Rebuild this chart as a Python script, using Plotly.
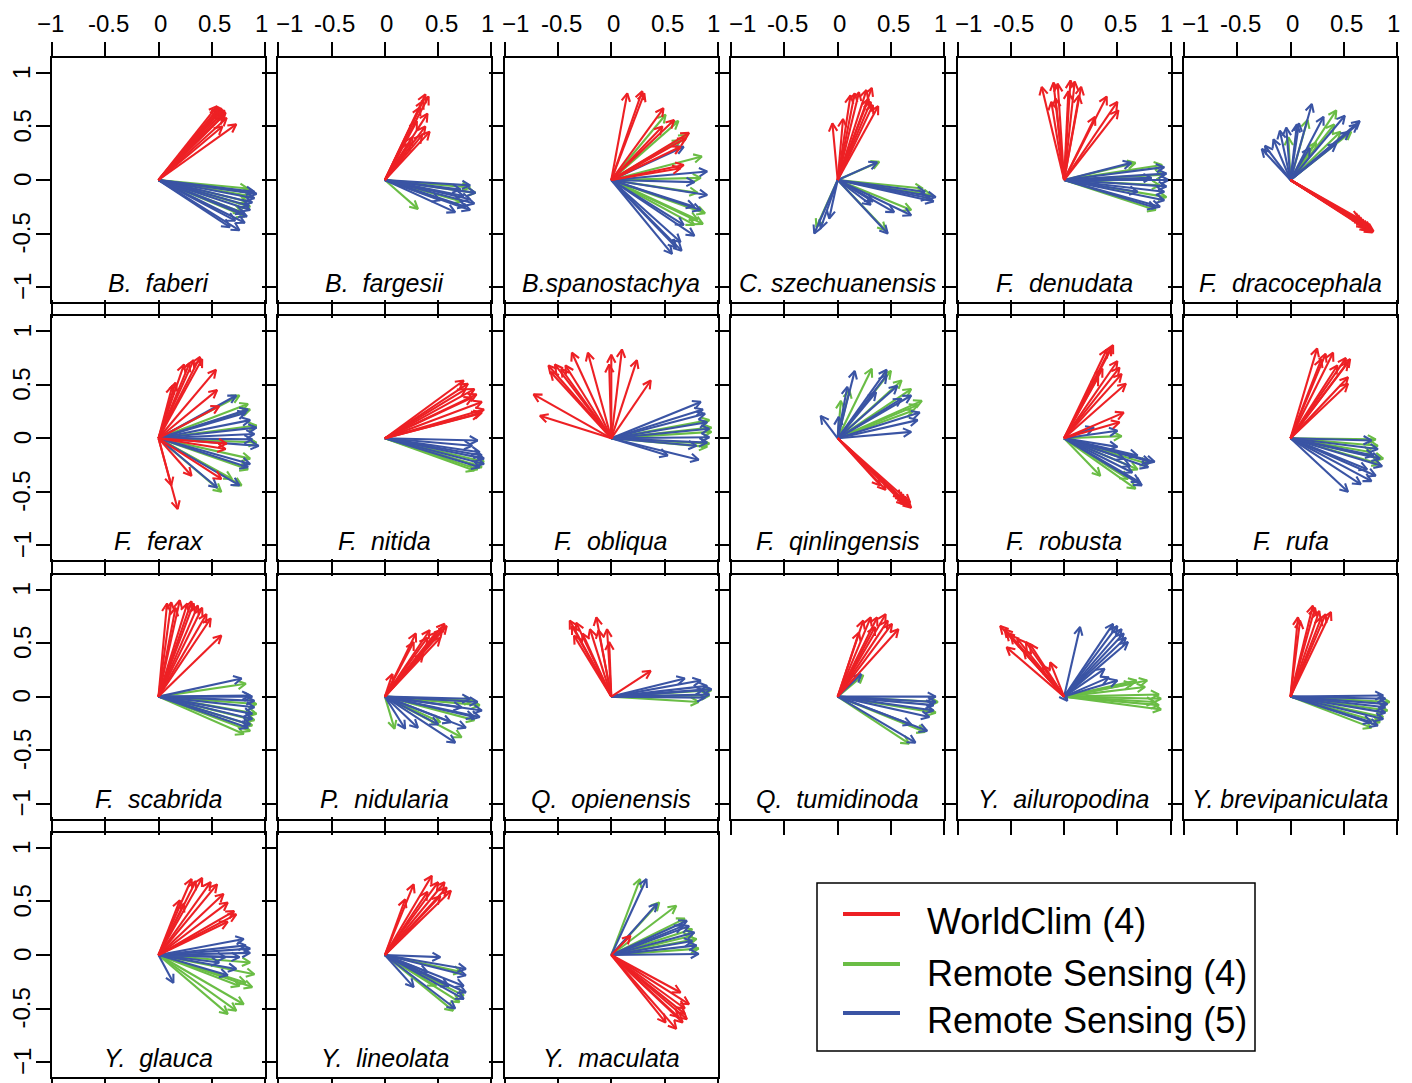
import numpy as np
import plotly.graph_objects as go

W, H = 1412, 1083
RED = "#ED2024"
GREEN = "#6ABD45"
BLUE = "#3A54A4"
FONT = "Liberation Sans, Arial, Helvetica, sans-serif"

TICK_VALS = [-1, -0.5, 0, 0.5, 1]
TICK_TEXT = ["\u22121", "-0.5", "0", "0.5", "1"]
X_RANGE = [-1.0, 1.0]
Y_RANGE = [-1.14, 1.14]

LEGEND_LABELS = ["WorldClim (4)", "Remote Sensing (4)", "Remote Sensing (5)"]

SPECIES = ["B.\u00a0 faberi", "B.\u00a0 fargesii", "B.spanostachya", "C. szechuanensis",
           "F.\u00a0 denudata", "F.\u00a0 dracocephala", "F.\u00a0 ferax", "F.\u00a0 nitida",
           "F.\u00a0 obliqua", "F.\u00a0 qinlingensis", "F.\u00a0 robusta", "F.\u00a0 rufa",
           "F.\u00a0 scabrida", "P.\u00a0 nidularia", "Q.\u00a0 opienensis", "Q.\u00a0 tumidinoda",
           "Y.\u00a0 ailuropodina", "Y. brevipaniculata", "Y.\u00a0 glauca", "Y.\u00a0 lineolata",
           "Y.\u00a0 maculata"]

# ---- arrow end points (x, y) per species and variable set ----
FABERI_WC = [(0.55, 0.69), (0.57, 0.68), (0.59, 0.67), (0.6, 0.66), (0.62, 0.65), (0.63, 0.63), (0.58, 0.64),
             (0.61, 0.6), (0.6, 0.5), (0.73, 0.52), (0.56, 0.66), (0.64, 0.58)]
FABERI_RS4 = [(0.84, -0.08), (0.86, -0.15), (0.86, -0.25), (0.81, -0.34), (0.78, -0.3), (0.83, -0.2), (0.88, -0.12)]
FABERI_RS5 = [(0.9, -0.11), (0.9, -0.17), (0.88, -0.21), (0.86, -0.28), (0.83, -0.34), (0.81, -0.4), (0.67, -0.44),
              (0.76, -0.47), (0.92, -0.13), (0.85, -0.24), (0.8, -0.31), (0.72, -0.38)]

FARGESII_WC = [(0.38, 0.8), (0.41, 0.78), (0.36, 0.74), (0.33, 0.68), (0.4, 0.62), (0.3, 0.55), (0.38, 0.5),
               (0.26, 0.4), (0.42, 0.45), (0.24, 0.35), (0.35, 0.42)]
FARGESII_RS4 = [(0.31, -0.27), (0.8, -0.07), (0.72, -0.2), (0.85, -0.12)]
FARGESII_RS5 = [(0.8, -0.05), (0.85, -0.12), (0.8, -0.18), (0.76, -0.25), (0.66, -0.3), (0.8, -0.28), (0.52, -0.19),
                (0.71, -0.09), (0.84, -0.22), (0.74, -0.15)]

SPANOSTACHYA_WC = [(0.15, 0.81), (0.29, 0.83), (0.31, 0.81), (0.49, 0.67), (0.59, 0.56), (0.48, 0.5), (0.73, 0.44),
                   (0.7, 0.39), (0.65, 0.31), (0.68, 0.14), (0.65, 0.11)]
SPANOSTACHYA_RS4 = [(0.51, 0.61), (0.63, 0.55), (0.71, 0.42), (0.65, 0.37), (0.85, 0.22), (0.84, 0.02), (0.81, -0.12),
                    (0.88, -0.31), (0.86, -0.41), (0.81, -0.37), (0.78, -0.42)]
SPANOSTACHYA_RS5 = [(0.68, 0.31), (0.9, 0.08), (0.78, -0.02), (0.9, -0.14), (0.78, -0.25), (0.84, -0.28), (0.78, -0.52),
                    (0.65, -0.58), (0.57, -0.69), (0.66, -0.66), (0.61, -0.63), (0.68, -0.42)]

SZECHUANENSIS_WC = [(-0.05, 0.53), (0.05, 0.57), (0.16, 0.81), (0.2, 0.82), (0.27, 0.84), (0.32, 0.86), (0.29, 0.76),
                    (0.33, 0.7), (0.38, 0.69), (0.31, 0.73), (0.12, 0.79)]
SZECHUANENSIS_RS4 = [(0.39, 0.17), (0.69, -0.28), (0.88, -0.14), (-0.2, -0.44), (0.45, -0.47), (0.8, -0.08)]
SZECHUANENSIS_RS5 = [(0.37, 0.165), (0.92, -0.16), (0.9, -0.2), (0.82, -0.11), (0.69, -0.33), (0.53, -0.3), (0.47, -0.5),
                     (0.31, -0.23), (-0.22, -0.5), (-0.16, -0.45), (-0.08, -0.36), (0.86, -0.17), (0.33, -0.2)]

DENUDATA_WC = [(-0.21, 0.87), (-0.1, 0.91), (-0.06, 0.9), (-0.08, 0.76), (0.06, 0.93), (0.1, 0.92), (0.16, 0.87),
               (0.14, 0.79), (0.04, 0.83), (0.4, 0.78), (0.5, 0.73), (0.51, 0.65), (0.29, 0.59), (-0.12, 0.73)]
DENUDATA_RS4 = [(0.92, 0.14), (0.94, 0.05), (0.9, -0.05), (0.86, -0.28), (0.96, -0.16), (0.67, 0.16)]
DENUDATA_RS5 = [(0.63, 0.16), (0.94, 0.12), (0.96, 0.06), (0.98, 0.0), (0.96, -0.06), (0.94, -0.11), (0.94, -0.19),
                (0.9, -0.25), (0.86, -0.26), (0.82, 0.02), (0.69, -0.11)]

DRACOCEPHALA_WC = [(0.78, -0.48), (0.77, -0.49), (0.75, -0.47), (0.74, -0.45), (0.72, -0.44), (0.7, -0.42), (0.68, -0.4),
                   (0.66, -0.38), (0.64, -0.36), (0.76, -0.46), (0.73, -0.47), (0.7, -0.44)]
DRACOCEPHALA_RS4 = [(-0.02, 0.4), (0.16, 0.56), (0.43, 0.65), (0.41, 0.52), (0.47, 0.45), (0.57, 0.45), (0.24, 0.35)]
DRACOCEPHALA_RS5 = [(-0.24, 0.32), (-0.27, 0.29), (-0.16, 0.38), (-0.1, 0.46), (-0.04, 0.49), (0.06, 0.52), (0.08, 0.53),
                    (0.2, 0.71), (0.31, 0.59), (0.51, 0.6), (0.65, 0.55), (0.63, 0.52), (0.55, 0.45), (0.43, 0.34),
                    (0.18, 0.3)]

FERAX_WC = [(0.24, 0.69), (0.29, 0.7), (0.33, 0.73), (0.39, 0.76), (0.41, 0.74), (0.16, 0.52), (0.13, 0.49),
            (0.54, 0.64), (0.55, 0.45), (0.57, 0.3), (0.63, -0.1), (0.64, -0.05), (0.31, -0.35), (0.12, -0.44),
            (0.18, -0.66), (0.59, -0.38)]
FERAX_RS4 = [(0.76, 0.4), (0.84, 0.32), (0.86, 0.27), (0.92, 0.12), (0.92, -0.04), (0.86, -0.19), (0.84, -0.29),
             (0.78, -0.44), (0.59, -0.5), (0.69, -0.38)]
FERAX_RS5 = [(0.73, 0.4), (0.84, 0.27), (0.86, 0.17), (0.92, 0.1), (0.9, 0.04), (0.94, -0.07), (0.86, -0.24),
             (0.84, -0.27), (0.76, -0.44), (0.55, -0.46), (0.82, 0.24), (0.88, -0.01)]

NITIDA_WC = [(0.74, 0.54), (0.78, 0.51), (0.84, 0.46), (0.86, 0.41), (0.91, 0.34), (0.93, 0.27), (0.89, 0.23),
             (0.82, 0.38), (0.91, 0.24), (0.76, 0.46)]
NITIDA_RS4 = [(0.84, -0.3), (0.91, -0.27), (0.93, -0.22), (0.87, -0.29), (0.89, -0.26)]
NITIDA_RS5 = [(0.87, -0.02), (0.89, -0.13), (0.93, -0.19), (0.93, -0.24), (0.89, -0.27), (0.82, -0.07), (0.91, -0.16)]

OBLIQUA_WC = [(-0.73, 0.41), (-0.67, 0.21), (-0.59, 0.68), (-0.53, 0.69), (-0.47, 0.65), (-0.43, 0.68), (-0.37, 0.8),
              (-0.22, 0.8), (-0.02, 0.69), (0.0, 0.78), (0.1, 0.83), (0.24, 0.73), (0.37, 0.54), (-0.57, 0.62)]
OBLIQUA_RS4 = [(0.92, 0.17), (0.94, 0.1), (0.94, 0.06), (0.92, -0.05), (0.9, -0.08)]
OBLIQUA_RS5 = [(0.84, 0.34), (0.86, 0.27), (0.88, 0.23), (0.9, 0.15), (0.92, 0.09), (0.92, 0.01), (0.8, -0.07),
               (0.53, -0.16), (0.82, -0.2), (0.9, -0.04)]

QINLINGENSIS_WC = [(0.69, -0.65), (0.67, -0.63), (0.66, -0.62), (0.64, -0.6), (0.62, -0.58), (0.6, -0.56), (0.68, -0.6),
                   (0.45, -0.48), (0.4, -0.44), (0.63, -0.62)]
QINLINGENSIS_RS4 = [(0.03, 0.35), (0.32, 0.65), (0.5, 0.63), (0.6, 0.54), (0.69, 0.46), (0.79, 0.35), (0.75, 0.31),
                    (0.11, 0.45), (0.71, 0.26)]
QINLINGENSIS_RS5 = [(-0.16, 0.21), (0.01, 0.2), (0.09, 0.48), (0.16, 0.63), (0.46, 0.64), (0.46, 0.59), (0.56, 0.49),
                    (0.69, 0.4), (0.77, 0.24), (0.75, 0.17), (0.69, 0.06), (0.6, 0.37), (0.36, 0.43)]

ROBUSTA_WC = [(0.44, 0.85), (0.46, 0.87), (0.4, 0.83), (0.5, 0.72), (0.52, 0.66), (0.54, 0.6), (0.58, 0.51),
              (0.56, 0.24), (0.52, 0.15), (0.36, 0.65), (0.32, 0.57)]
ROBUSTA_RS4 = [(0.54, 0.02), (0.34, -0.35), (0.67, -0.47), (0.69, -0.29), (0.79, -0.24), (0.6, -0.38)]
ROBUSTA_RS5 = [(0.28, 0.1), (0.5, 0.07), (0.5, -0.08), (0.69, -0.16), (0.81, -0.22), (0.85, -0.22), (0.79, -0.27),
               (0.73, -0.44), (0.71, -0.41), (0.64, -0.32), (0.62, -0.26), (0.56, -0.19)]

RUFA_WC = [(0.25, 0.84), (0.33, 0.79), (0.4, 0.8), (0.52, 0.75), (0.56, 0.74), (0.54, 0.71), (0.54, 0.57),
           (0.54, 0.51), (0.44, 0.68), (0.29, 0.74)]
RUFA_RS4 = [(0.82, -0.07), (0.87, -0.19), (0.84, -0.24), (0.8, -0.01), (0.76, -0.13)]
RUFA_RS5 = [(0.76, -0.02), (0.82, -0.1), (0.84, -0.19), (0.86, -0.26), (0.8, -0.35), (0.76, -0.4), (0.66, -0.43),
            (0.54, -0.5), (0.72, -0.29), (0.78, -0.16)]

SCABRIDA_WC = [(0.08, 0.87), (0.12, 0.88), (0.2, 0.9), (0.31, 0.89), (0.33, 0.87), (0.37, 0.85), (0.41, 0.83),
               (0.45, 0.77), (0.49, 0.73), (0.59, 0.57), (0.16, 0.83), (0.27, 0.87)]
SCABRIDA_RS4 = [(0.82, 0.12), (0.92, -0.07), (0.92, -0.16), (0.9, -0.22), (0.86, -0.32), (0.8, -0.35), (0.88, -0.27)]
SCABRIDA_RS5 = [(0.78, 0.17), (0.88, 0.0), (0.9, -0.04), (0.9, -0.1), (0.88, -0.16), (0.88, -0.21), (0.86, -0.26),
                (0.84, -0.29), (0.86, 0.01)]

NIDULARIA_WC = [(0.56, 0.68), (0.58, 0.66), (0.54, 0.63), (0.48, 0.6), (0.42, 0.62), (0.4, 0.55), (0.29, 0.59),
                (0.27, 0.51), (0.36, 0.4), (0.07, 0.21), (0.52, 0.55)]
NIDULARIA_RS4 = [(0.89, -0.08), (0.82, -0.04), (0.72, -0.38), (0.09, -0.3), (0.84, -0.22), (0.52, -0.24)]
NIDULARIA_RS5 = [(0.87, -0.05), (0.91, -0.13), (0.84, -0.19), (0.76, -0.29), (0.66, -0.43), (0.5, -0.26), (0.31, -0.29),
                 (0.19, -0.3), (0.72, -0.1), (0.8, -0.02), (0.89, -0.19), (0.62, -0.24)]

OPIENENSIS_WC = [(-0.39, 0.71), (-0.37, 0.66), (-0.33, 0.69), (-0.27, 0.59), (-0.2, 0.63), (-0.14, 0.74), (-0.12, 0.62),
                 (-0.04, 0.63), (-0.02, 0.51), (-0.35, 0.57), (0.37, 0.24)]
OPIENENSIS_RS4 = [(0.82, -0.05), (0.92, 0.01), (0.94, 0.06)]
OPIENENSIS_RS5 = [(0.69, 0.17), (0.84, 0.15), (0.9, 0.1), (0.94, 0.07), (0.92, 0.02), (0.88, -0.01), (0.86, 0.06)]

TUMIDINODA_WC = [(0.24, 0.71), (0.31, 0.74), (0.37, 0.74), (0.45, 0.77), (0.47, 0.71), (0.51, 0.68), (0.57, 0.63),
                 (0.35, 0.65), (0.2, 0.6)]
TUMIDINODA_RS4 = [(0.24, 0.2), (0.94, -0.05), (0.92, -0.15), (0.82, -0.33), (0.67, -0.44)]
TUMIDINODA_RS5 = [(0.22, 0.21), (0.92, 0.0), (0.92, -0.05), (0.9, -0.08), (0.9, -0.13), (0.84, -0.32), (0.73, -0.43),
                  (0.69, -0.26), (0.86, -0.19)]

AILUROPODINA_WC = [(-0.6, 0.66), (-0.56, 0.63), (-0.54, 0.6), (-0.5, 0.57), (-0.44, 0.54), (-0.36, 0.51), (-0.32, 0.49),
                   (-0.54, 0.46), (-0.13, 0.32), (-0.2, 0.29), (-0.38, 0.43)]
AILUROPODINA_RS4 = [(0.78, 0.15), (0.76, 0.09), (0.89, 0.02), (0.91, -0.02), (0.89, -0.08), (0.91, -0.12), (0.68, 0.15),
                    (0.85, -0.05), (0.64, 0.12)]
AILUROPODINA_RS5 = [(0.15, 0.65), (0.46, 0.68), (0.5, 0.66), (0.54, 0.63), (0.58, 0.55), (0.6, 0.51), (0.38, 0.26),
                    (0.42, 0.18), (0.5, 0.15), (0.03, -0.04), (0.56, 0.59)]

BREVIPANICULATA_WC = [(0.07, 0.74), (0.09, 0.71), (0.21, 0.85), (0.23, 0.83), (0.27, 0.8), (0.33, 0.77), (0.38, 0.79),
                      (0.29, 0.74)]
BREVIPANICULATA_RS4 = [(0.93, -0.05), (0.91, -0.13), (0.87, -0.19), (0.76, -0.29), (0.84, -0.24)]
BREVIPANICULATA_RS5 = [(0.87, 0.01), (0.89, -0.02), (0.91, -0.07), (0.89, -0.1), (0.89, -0.15), (0.87, -0.21),
                       (0.82, -0.27), (0.76, -0.24)]

GLAUCA_WC = [(0.31, 0.71), (0.35, 0.69), (0.41, 0.72), (0.49, 0.68), (0.55, 0.66), (0.61, 0.57), (0.65, 0.49),
             (0.71, 0.41), (0.73, 0.38), (0.2, 0.51), (0.24, 0.48), (0.65, 0.31)]
GLAUCA_RS4 = [(0.86, -0.07), (0.9, -0.18), (0.88, -0.3), (0.8, -0.46), (0.73, -0.52), (0.65, -0.55), (0.82, -0.26),
              (0.76, -0.29)]
GLAUCA_RS5 = [(0.8, 0.15), (0.86, 0.06), (0.86, 0.02), (0.76, -0.02), (0.63, -0.02), (0.73, -0.13), (0.65, -0.19),
              (0.14, -0.26), (0.57, -0.07), (0.82, 0.09)]

LINEOLATA_WC = [(0.27, 0.66), (0.19, 0.52), (0.44, 0.74), (0.5, 0.68), (0.56, 0.68), (0.58, 0.63), (0.62, 0.6),
                (0.4, 0.59), (0.52, 0.55)]
LINEOLATA_RS4 = [(0.72, -0.16), (0.74, -0.38), (0.64, -0.52), (0.48, -0.29), (0.7, -0.44)]
LINEOLATA_RS5 = [(0.52, -0.02), (0.76, -0.13), (0.76, -0.19), (0.74, -0.29), (0.76, -0.35), (0.74, -0.41), (0.66, -0.5),
                 (0.27, -0.3), (0.6, -0.29), (0.4, -0.16)]

MACULATA_WC = [(0.65, -0.35), (0.73, -0.46), (0.69, -0.55), (0.71, -0.6), (0.67, -0.63), (0.61, -0.69), (0.51, -0.63),
               (0.63, -0.58), (0.69, -0.5), (0.18, 0.18)]
MACULATA_RS4 = [(0.27, 0.71), (0.45, 0.49), (0.61, 0.46), (0.69, 0.34), (0.76, 0.24), (0.8, 0.15), (0.82, 0.06),
                (0.76, 0.18)]
MACULATA_RS5 = [(0.33, 0.71), (0.43, 0.48), (0.71, 0.32), (0.73, 0.27), (0.78, 0.21), (0.76, 0.13), (0.82, 0.01),
                (0.67, 0.27), (0.8, 0.09)]

PANELS = [
    (FABERI_WC, FABERI_RS4, FABERI_RS5),
    (FARGESII_WC, FARGESII_RS4, FARGESII_RS5),
    (SPANOSTACHYA_WC, SPANOSTACHYA_RS4, SPANOSTACHYA_RS5),
    (SZECHUANENSIS_WC, SZECHUANENSIS_RS4, SZECHUANENSIS_RS5),
    (DENUDATA_WC, DENUDATA_RS4, DENUDATA_RS5),
    (DRACOCEPHALA_WC, DRACOCEPHALA_RS4, DRACOCEPHALA_RS5),
    (FERAX_WC, FERAX_RS4, FERAX_RS5),
    (NITIDA_WC, NITIDA_RS4, NITIDA_RS5),
    (OBLIQUA_WC, OBLIQUA_RS4, OBLIQUA_RS5),
    (QINLINGENSIS_WC, QINLINGENSIS_RS4, QINLINGENSIS_RS5),
    (ROBUSTA_WC, ROBUSTA_RS4, ROBUSTA_RS5),
    (RUFA_WC, RUFA_RS4, RUFA_RS5),
    (SCABRIDA_WC, SCABRIDA_RS4, SCABRIDA_RS5),
    (NIDULARIA_WC, NIDULARIA_RS4, NIDULARIA_RS5),
    (OPIENENSIS_WC, OPIENENSIS_RS4, OPIENENSIS_RS5),
    (TUMIDINODA_WC, TUMIDINODA_RS4, TUMIDINODA_RS5),
    (AILUROPODINA_WC, AILUROPODINA_RS4, AILUROPODINA_RS5),
    (BREVIPANICULATA_WC, BREVIPANICULATA_RS4, BREVIPANICULATA_RS5),
    (GLAUCA_WC, GLAUCA_RS4, GLAUCA_RS5),
    (LINEOLATA_WC, LINEOLATA_RS4, LINEOLATA_RS5),
    (MACULATA_WC, MACULATA_RS4, MACULATA_RS5),
]

# ---- layout geometry (pixels) ----
COL_LEFT = [52, 278.4, 504.8, 731.2, 957.6, 1184]
ROW_TOP = [58, 316.3, 574.6, 833]
PANEL_W, PANEL_H = 213, 244
HEAD_LEN = 9.0      # px
HEAD_ANG = np.deg2rad(28)
# horizontal nudges of the top tick labels (px), as in the original figure
TOP_LABEL_SHIFT = [11, 3, 2, 3, -4]

SX = PANEL_W / (X_RANGE[1] - X_RANGE[0])
SY = PANEL_H / (Y_RANGE[1] - Y_RANGE[0])


def arrow_path(points):
    xs, ys = [], []
    for x, y in points:
        ang = np.arctan2(y * SY, x * SX)
        xs += [0, x, None]
        ys += [0, y, None]
        h = []
        for s in (1, -1):
            a = ang + np.pi + s * HEAD_ANG
            h.append((x + HEAD_LEN * np.cos(a) / SX, y + HEAD_LEN * np.sin(a) / SY))
        xs += [h[0][0], x, h[1][0], None]
        ys += [h[0][1], y, h[1][1], None]
    return xs, ys


fig = go.Figure()
annotations = []
for i, (wc, rs4, rs5) in enumerate(PANELS):
    r, c = divmod(i, 6)
    n = "" if i == 0 else str(i + 1)
    xa, ya = "x" + n, "y" + n
    for pts, col in ((rs4, GREEN), (rs5, BLUE), (wc, RED)):
        xs, ys = arrow_path(pts)
        fig.add_trace(go.Scatter(x=xs, y=ys, mode="lines", xaxis=xa, yaxis=ya,
                                 line=dict(color=col, width=2.1), hoverinfo="skip",
                                 showlegend=False))
    x0 = COL_LEFT[c] / W
    x1 = (COL_LEFT[c] + PANEL_W) / W
    y1 = 1 - ROW_TOP[r] / H
    y0 = 1 - (ROW_TOP[r] + PANEL_H) / H
    fig.layout["xaxis" + n] = dict(
        domain=[x0, x1], range=X_RANGE, anchor=ya, side="top", automargin=False,
        showline=True, linecolor="black", linewidth=2, mirror="ticks",
        ticks="outside", ticklen=14, tickwidth=2, tickcolor="black",
        tickvals=TICK_VALS, ticktext=TICK_TEXT, showticklabels=False,
        showgrid=False, zeroline=False, fixedrange=True)
    fig.layout["yaxis" + n] = dict(
        domain=[y0, y1], range=Y_RANGE, anchor=xa, automargin=False,
        showline=True, linecolor="black", linewidth=2, mirror=True,
        ticks="outside", ticklen=14, tickwidth=2, tickcolor="black",
        tickvals=TICK_VALS, ticktext=TICK_TEXT, showticklabels=False,
        showgrid=False, zeroline=False, fixedrange=True)
    if r == 0:
        for tv, tt, sh in zip(TICK_VALS, TICK_TEXT, TOP_LABEL_SHIFT):
            if c == 0 and tv == -1:
                sh = -2
            annotations.append(dict(x=tv, y=1 - 23 / H, xref=xa, yref="paper", text=tt,
                                    showarrow=False, xanchor="center", yanchor="middle", xshift=sh,
                                    font=dict(family=FONT, size=24, color="black")))
    if c == 0:
        for tv, tt in zip(TICK_VALS, TICK_TEXT):
            annotations.append(dict(x=22 / W, y=tv, xref="paper", yref=ya, text=tt, textangle=-90,
                                    showarrow=False, xanchor="center", yanchor="middle",
                                    font=dict(family=FONT, size=24, color="black")))
    annotations.append(dict(x=0, y=-0.96, xref=xa, yref=ya, text="<i>" + SPECIES[i] + "</i>",
                            showarrow=False, xanchor="center", yanchor="middle",
                            font=dict(family=FONT, size=25, color="black")))

# ---- legend (drawn manually) ----
shapes = [dict(type="rect", xref="paper", yref="paper",
               x0=817 / W, x1=1255 / W, y0=1 - 1051 / H, y1=1 - 883 / H,
               line=dict(color="black", width=1.5), fillcolor="rgba(0,0,0,0)")]
for k, (lab, col) in enumerate(zip(LEGEND_LABELS, (RED, GREEN, BLUE))):
    ly = [914, 964, 1013][k]
    ty = [921, 973, 1020][k]
    shapes.append(dict(type="line", xref="paper", yref="paper",
                       x0=843 / W, x1=900 / W, y0=1 - ly / H, y1=1 - ly / H,
                       line=dict(color=col, width=4)))
    annotations.append(dict(x=925 / W, y=1 - ty / H, xref="paper", yref="paper", text=lab,
                            showarrow=False, xanchor="left", yanchor="middle",
                            font=dict(family=FONT, size=36, color="black")))

fig.update_layout(template="none", width=W, height=H, margin=dict(l=0, r=0, t=0, b=0, pad=0),
                  paper_bgcolor="white", plot_bgcolor="white",
                  annotations=annotations, shapes=shapes, showlegend=False)

fig.write_html("out.html", config={"displayModeBar": False, "staticPlot": True},
               post_script="document.body.style.margin='0px';document.body.style.overflow='hidden';")
